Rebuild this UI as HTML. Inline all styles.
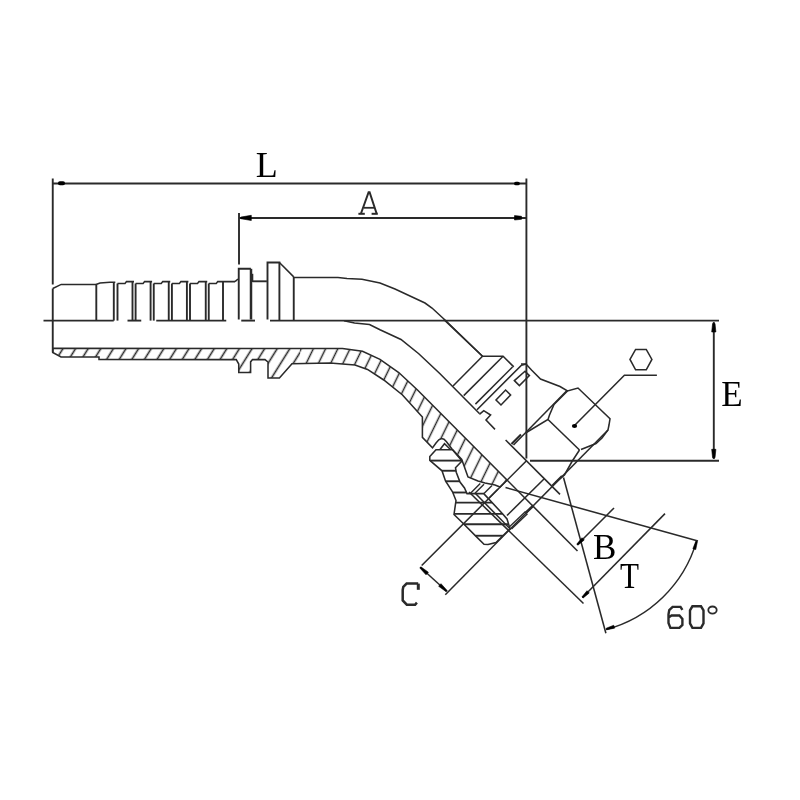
<!DOCTYPE html>
<html><head><meta charset="utf-8"><style>html,body{margin:0;padding:0;background:#fff;width:800px;height:800px;overflow:hidden}svg{display:block}text{-webkit-font-smoothing:antialiased}svg{will-change:transform}</style></head>
<body><svg width="800" height="800" viewBox="0 0 800 800">
<defs><clipPath id="cl"><rect x="0" y="0" width="300" height="800"/></clipPath><clipPath id="cr"><rect x="300" y="0" width="500" height="800"/></clipPath><pattern id="p1" patternUnits="userSpaceOnUse" x="8.29" width="10.69" height="40" patternTransform="rotate(32)"><line x1="5.345" y1="-5" x2="5.345" y2="45" stroke="#2a2a2a" stroke-width="1.6"/></pattern><pattern id="p2" patternUnits="userSpaceOnUse" x="0" width="11" height="40" patternTransform="rotate(26)"><line x1="5.5" y1="-5" x2="5.5" y2="45" stroke="#2a2a2a" stroke-width="1.5"/></pattern></defs>
<rect width="800" height="800" fill="#fff"/>
<g fill="none" stroke="#2a2a2a" stroke-linecap="butt" stroke-linejoin="miter">
<line x1="52.75" y1="178.50" x2="52.75" y2="284.50" stroke-width="1.9"/>
<line x1="526.40" y1="178.50" x2="526.40" y2="458.50" stroke-width="1.9"/>
<line x1="52.75" y1="183.50" x2="526.40" y2="183.50" stroke-width="1.9"/>
<line x1="59.9" y1="183.3" x2="63.1" y2="183.3" stroke="#000" stroke-width="3.9" stroke-linecap="round"/>
<line x1="515.9" y1="183.5" x2="518" y2="183.5" stroke="#000" stroke-width="3.7" stroke-linecap="round"/>
<line x1="239.00" y1="213.00" x2="239.00" y2="264.50" stroke-width="1.9"/>
<line x1="239.00" y1="218.00" x2="526.40" y2="218.00" stroke-width="1.9"/>
<path d="M240.80,217.10 L251.30,215.30 L251.30,220.50 L240.80,218.70Z" fill="#000" stroke="#000" stroke-width="0.6" stroke-linejoin="round"/>
<path d="M521.50,219.30 L514.50,220.00 L514.50,215.60 L521.50,216.30Z" fill="#000" stroke="#000" stroke-width="0.6" stroke-linejoin="round"/>
<text x="255.75" y="176.5" font-family="Liberation Serif" font-size="36" fill="#000" stroke="none">L</text>
<path d="M361.00,213.50 L368.60,192.20 L369.60,192.20 L376.60,213.50" stroke-width="2.0"/>
<line x1="364.00" y1="207.80" x2="374.00" y2="207.80" stroke-width="1.8"/>
<line x1="358.40" y1="213.80" x2="364.80" y2="213.80" stroke-width="2.0"/>
<line x1="371.60" y1="213.80" x2="377.80" y2="213.80" stroke-width="2.0"/>
<line x1="43.50" y1="320.60" x2="113.75" y2="320.60" stroke-width="1.9"/>
<line x1="127.50" y1="320.60" x2="141.25" y2="320.60" stroke-width="1.9"/>
<line x1="156.25" y1="320.60" x2="226.25" y2="320.60" stroke-width="1.9"/>
<line x1="241.25" y1="320.60" x2="255.00" y2="320.60" stroke-width="1.9"/>
<line x1="270.00" y1="320.60" x2="719.00" y2="320.60" stroke-width="1.9"/>
<line x1="530.00" y1="460.80" x2="719.00" y2="460.80" stroke-width="1.9"/>
<line x1="713.80" y1="322.00" x2="713.80" y2="459.00" stroke-width="1.9"/>
<path d="M715.00,323.50 L715.90,332.00 L711.70,332.00 L712.60,323.50Z" fill="#000" stroke="#000" stroke-width="0.6" stroke-linejoin="round"/>
<path d="M712.60,457.80 L711.70,449.30 L715.90,449.30 L715.00,457.80Z" fill="#000" stroke="#000" stroke-width="0.6" stroke-linejoin="round"/>
<text x="721.2" y="405.6" font-family="Liberation Serif" font-size="35" fill="#000" stroke="none">E</text>
<path d="M52.75,288.50 L61.20,284.40 L96.30,284.40" stroke-width="1.55"/>
<line x1="96.30" y1="284.40" x2="96.30" y2="320.60" stroke-width="1.9"/>
<path d="M96.00,284.40 L100.00,283.00 L110.00,282.30 L115.30,282.30" stroke-width="1.55"/>
<line x1="113.80" y1="282.30" x2="113.80" y2="320.60" stroke-width="1.9"/>
<line x1="117.50" y1="283.50" x2="117.50" y2="320.60" stroke-width="1.9"/>
<line x1="132.50" y1="281.60" x2="132.50" y2="320.60" stroke-width="1.9"/>
<path d="M117.50,283.50 L125.00,283.50 L126.50,281.60 L134.00,281.60" stroke-width="1.55"/>
<line x1="135.60" y1="283.50" x2="135.60" y2="320.60" stroke-width="1.9"/>
<line x1="150.60" y1="281.60" x2="150.60" y2="320.60" stroke-width="1.9"/>
<path d="M135.60,283.50 L143.10,283.50 L144.60,281.60 L152.10,281.60" stroke-width="1.55"/>
<line x1="153.75" y1="283.50" x2="153.75" y2="320.60" stroke-width="1.9"/>
<line x1="168.75" y1="281.60" x2="168.75" y2="320.60" stroke-width="1.9"/>
<path d="M153.75,283.50 L161.25,283.50 L162.75,281.60 L170.25,281.60" stroke-width="1.55"/>
<line x1="171.90" y1="283.50" x2="171.90" y2="320.60" stroke-width="1.9"/>
<line x1="186.90" y1="281.60" x2="186.90" y2="320.60" stroke-width="1.9"/>
<path d="M171.90,283.50 L179.40,283.50 L180.90,281.60 L188.40,281.60" stroke-width="1.55"/>
<line x1="190.00" y1="283.50" x2="190.00" y2="320.60" stroke-width="1.9"/>
<line x1="205.75" y1="281.60" x2="205.75" y2="320.60" stroke-width="1.9"/>
<path d="M190.00,283.50 L197.50,283.50 L199.00,281.60 L207.25,281.60" stroke-width="1.55"/>
<line x1="208.75" y1="283.50" x2="208.75" y2="320.60" stroke-width="1.9"/>
<line x1="223.00" y1="281.60" x2="223.00" y2="320.60" stroke-width="1.9"/>
<path d="M208.75,283.50 L216.25,283.50 L217.75,281.60 L235.00,281.60" stroke-width="1.55"/>
<path d="M235.00,281.60 L238.00,279.00" stroke-width="1.55"/>
<path d="M238.75,319.50 L238.75,268.80 L250.90,268.80" stroke-width="1.9"/>
<line x1="251.00" y1="268.80" x2="251.00" y2="319.50" stroke-width="2.5"/>
<line x1="252.30" y1="273.80" x2="252.30" y2="282.00" stroke-width="2"/>
<line x1="252.50" y1="281.30" x2="266.90" y2="281.30" stroke-width="1.9"/>
<path d="M267.50,319.50 L267.50,262.50 L279.40,262.50 L279.40,320.00" stroke-width="1.9"/>
<path d="M279.40,262.50 L293.75,276.90" stroke-width="1.55"/>
<line x1="293.75" y1="276.90" x2="293.75" y2="320.60" stroke-width="1.9"/>
<path d="M293.75,277.50 L338.00,277.50 L347.00,278.50 L362.00,279.20 L380.00,283.00 L395.00,289.00 L410.00,296.00 L425.00,303.00 L432.00,308.00 L445.00,320.00 L482.50,356.25" stroke-width="1.55"/>
<path d="M344.00,320.70 L354.50,323.00 L369.50,324.50 L380.00,329.70 L401.00,339.50 L418.75,353.75 L440.00,373.75 L479.40,413.50" stroke-width="1.55"/>
<g clip-path="url(#cl)">
<path d="M52.75,348.30 L342.50,348.50 L362.50,351.25 L380.00,359.40 L398.75,372.50 L417.50,390.00 L507.00,480.00 L500.00,487.00 L495.00,485.00 L485.00,483.00 L478.00,481.00 L468.00,477.00 L461.75,459.50 L452.00,449.00 L446.50,441.80 L444.00,439.30 L441.50,438.60 L438.80,439.80 L436.00,443.00 L432.50,447.90 L422.40,437.40 L422.40,417.00 L402.50,395.00 L383.75,380.00 L367.50,369.40 L355.00,365.00 L330.00,363.00 L292.00,363.75 L279.40,378.00 L268.00,378.00 L268.00,362.00 L265.00,359.60 L252.50,359.60 L250.60,361.90 L250.60,372.50 L238.75,372.50 L238.75,364.00 L236.25,359.60 L99.00,359.50 L99.00,357.00 L61.00,357.00 L52.75,352.50Z" fill="url(#p1)" stroke="none"/>
</g>
<g clip-path="url(#cr)">
<path d="M52.75,348.30 L342.50,348.50 L362.50,351.25 L380.00,359.40 L398.75,372.50 L417.50,390.00 L507.00,480.00 L500.00,487.00 L495.00,485.00 L485.00,483.00 L478.00,481.00 L468.00,477.00 L461.75,459.50 L452.00,449.00 L446.50,441.80 L444.00,439.30 L441.50,438.60 L438.80,439.80 L436.00,443.00 L432.50,447.90 L422.40,437.40 L422.40,417.00 L402.50,395.00 L383.75,380.00 L367.50,369.40 L355.00,365.00 L330.00,363.00 L292.00,363.75 L279.40,378.00 L268.00,378.00 L268.00,362.00 L265.00,359.60 L252.50,359.60 L250.60,361.90 L250.60,372.50 L238.75,372.50 L238.75,364.00 L236.25,359.60 L99.00,359.50 L99.00,357.00 L61.00,357.00 L52.75,352.50Z" fill="url(#p2)" stroke="none"/>
</g>
<path d="M52.75,348.30 L342.50,348.50 L362.50,351.25 L380.00,359.40 L398.75,372.50 L417.50,390.00 L507.00,480.00 L500.00,487.00 L495.00,485.00 L485.00,483.00 L478.00,481.00 L468.00,477.00 L461.75,459.50 L452.00,449.00 L446.50,441.80 L444.00,439.30 L441.50,438.60 L438.80,439.80 L436.00,443.00 L432.50,447.90 L422.40,437.40 L422.40,417.00 L402.50,395.00 L383.75,380.00 L367.50,369.40 L355.00,365.00 L330.00,363.00 L292.00,363.75 L279.40,378.00 L268.00,378.00 L268.00,362.00 L265.00,359.60 L252.50,359.60 L250.60,361.90 L250.60,372.50 L238.75,372.50 L238.75,364.00 L236.25,359.60 L99.00,359.50 L99.00,357.00 L61.00,357.00 L52.75,352.50Z" stroke-width="1.55"/>
<line x1="52.75" y1="288.50" x2="52.75" y2="352.50" stroke-width="1.9"/>
<path d="M443.75,319.40 L482.50,356.25 L503.10,356.25 L513.75,366.90" stroke-width="1.55"/>
<line x1="482.50" y1="356.25" x2="453.00" y2="386.00" stroke-width="1.55"/>
<line x1="503.10" y1="356.25" x2="463.75" y2="395.60" stroke-width="1.55"/>
<line x1="512.50" y1="367.00" x2="475.40" y2="404.10" stroke-width="1.55"/>
<path d="M526.40,364.00 L521.50,365.20 L477.00,409.75" stroke-width="1.55"/>
<path d="M514.40,380.60 L519.40,385.60 L529.40,375.60 L525.00,371.25Z" stroke-width="1.55"/>
<path d="M496.00,400.00 L501.00,405.00 L510.60,395.00 L505.60,390.00Z" stroke-width="1.55"/>
<path d="M479.40,414.40 L483.75,410.60 L490.60,415.00 L486.00,420.00 L495.00,429.40" stroke-width="1.55"/>
<line x1="505.60" y1="440.00" x2="560.00" y2="494.40" stroke-width="1.55"/>
<path d="M521.00,364.00 L526.00,364.00 L531.50,370.00 L540.50,379.00 L560.00,386.50 L567.50,391.00 L578.00,388.00 L610.00,418.75 L609.00,425.00 L608.00,430.00 L602.00,438.00 L596.00,443.50 L581.00,449.50" stroke-width="1.55"/>
<path d="M548.00,419.50 L579.50,450.00" stroke-width="1.55"/>
<path d="M567.50,391.00 L554.00,404.50 L549.50,415.00 L548.00,419.50 L525.50,433.00" stroke-width="1.55"/>
<line x1="513.50" y1="445.00" x2="567.00" y2="390.50" stroke-width="1.55"/>
<line x1="511.50" y1="444.00" x2="521.00" y2="434.50" stroke-width="2.2"/>
<path d="M579.50,450.00 L572.00,461.50 L564.50,475.00 L555.50,482.50" stroke-width="1.55"/>
<line x1="445.30" y1="594.80" x2="608.00" y2="430.00" stroke-width="1.55"/>
<line x1="552.50" y1="485.50" x2="562.00" y2="476.00" stroke-width="2.2"/>
<line x1="509.50" y1="526.80" x2="525.50" y2="511.50" stroke-width="1.3"/>
<line x1="511.50" y1="529.00" x2="527.50" y2="513.70" stroke-width="1.3"/>
<line x1="525.50" y1="513.00" x2="533.50" y2="505.50" stroke-width="2.6"/>
<path d="M630.00,359.40 L635.60,349.40 L646.25,349.40 L651.90,359.40 L646.25,369.75 L635.60,369.75Z" stroke-width="1.55"/>
<path d="M574.00,426.00 L624.40,375.25 L656.90,375.25" stroke-width="1.55"/>
<ellipse cx="574.5" cy="426" rx="2.6" ry="2" fill="#000" stroke="none"/>
<path d="M436.00,449.75 L452.50,449.75 L462.00,461.00 L455.50,467.75 L456.25,472.25 L460.00,482.00 L464.50,488.00 L467.00,493.60 L483.75,493.60 L502.50,513.75 L507.00,519.00 L510.00,528.75 L496.00,542.60 L488.00,544.50 L484.00,544.30 L475.30,535.60 L463.00,523.30 L454.00,514.50 L456.00,500.50 L452.50,491.80 L445.50,481.00 L442.00,470.80 L429.80,460.30 L429.80,456.60Z" stroke-width="1.55"/>
<line x1="430.15" y1="460.60" x2="461.66" y2="460.60" stroke-width="1.9"/>
<line x1="441.94" y1="470.75" x2="456.00" y2="470.75" stroke-width="1.9"/>
<line x1="445.66" y1="481.25" x2="459.71" y2="481.25" stroke-width="1.9"/>
<line x1="452.78" y1="492.50" x2="466.51" y2="492.50" stroke-width="1.9"/>
<line x1="455.70" y1="502.60" x2="492.12" y2="502.60" stroke-width="1.9"/>
<line x1="454.09" y1="513.90" x2="502.63" y2="513.90" stroke-width="1.9"/>
<line x1="463.95" y1="524.25" x2="508.62" y2="524.25" stroke-width="1.9"/>
<line x1="475.45" y1="535.75" x2="502.92" y2="535.75" stroke-width="1.9"/>
<path d="M440.00,449.50 L444.50,443.75 L450.50,449.50" stroke-width="1.55"/>
<line x1="470.50" y1="493.25" x2="480.25" y2="483.50" stroke-width="1.4"/>
<line x1="475.00" y1="493.25" x2="484.00" y2="484.25" stroke-width="1.4"/>
<line x1="484.00" y1="493.60" x2="492.00" y2="485.50" stroke-width="1.4"/>
<line x1="489.00" y1="498.00" x2="498.00" y2="489.00" stroke-width="1.4"/>
<line x1="475.50" y1="493.50" x2="510.00" y2="528.75" stroke-width="1.55"/>
<line x1="469.00" y1="492.00" x2="583.50" y2="603.50" stroke-width="1.55"/>
<line x1="507.00" y1="480.00" x2="577.50" y2="551.00" stroke-width="1.55"/>
<line x1="421.70" y1="565.50" x2="526.25" y2="461.00" stroke-width="1.55"/>
<line x1="420.00" y1="567.00" x2="447.00" y2="591.50" stroke-width="1.55"/>
<path d="M421.04,566.91 L428.36,572.22 L426.02,574.82 L419.96,568.09Z" fill="#000" stroke="#000" stroke-width="0.6" stroke-linejoin="round"/>
<path d="M445.96,591.59 L438.64,586.28 L440.98,583.68 L447.04,590.41Z" fill="#000" stroke="#000" stroke-width="0.6" stroke-linejoin="round"/>
<line x1="418.30" y1="583.60" x2="418.30" y2="589.80" stroke-width="3"/>
<path d="M418.20,583.50 L406.60,583.50 L403.30,586.80 L402.70,589.90 L402.70,600.40 L406.80,604.70 L415.10,604.70 L416.90,602.60" stroke-width="2.5"/>
<line x1="507.00" y1="515.50" x2="544.00" y2="479.00" stroke-width="1.55"/>
<line x1="563.50" y1="477.50" x2="605.90" y2="633.30" stroke-width="1.55"/>
<line x1="505.50" y1="487.50" x2="698.00" y2="541.10" stroke-width="1.55"/>
<path d="M606,629.5 A129,129 0 0 0 696.6,541.1" stroke-width="1.5"/>
<path d="M606.27,628.23 L613.73,625.26 L614.59,628.14 L606.73,629.77Z" fill="#000" stroke="#000" stroke-width="0.6" stroke-linejoin="round"/>
<path d="M697.37,541.73 L695.74,549.59 L692.86,548.73 L695.83,541.27Z" fill="#000" stroke="#000" stroke-width="0.6" stroke-linejoin="round"/>
<line x1="577.00" y1="545.00" x2="614.00" y2="508.00" stroke-width="1.55"/>
<path d="M576.93,543.93 L582.03,537.71 L584.29,539.97 L578.07,545.07Z" fill="#000" stroke="#000" stroke-width="0.6" stroke-linejoin="round"/>
<line x1="582.50" y1="597.50" x2="665.00" y2="513.60" stroke-width="1.55"/>
<path d="M581.93,596.93 L587.03,590.71 L589.29,592.97 L583.07,598.07Z" fill="#000" stroke="#000" stroke-width="0.6" stroke-linejoin="round"/>
<text x="593" y="559" font-family="Liberation Serif" font-size="35" fill="#000" stroke="none">B</text>
<text x="620" y="588" font-family="Liberation Serif" font-size="35" fill="#000" stroke="none" textLength="19" lengthAdjust="spacingAndGlyphs">T</text>
<path d="M682.40,609.90 L680.50,606.90 L672.60,606.90 L669.25,610.10 L668.50,614.40 L668.50,623.00 L670.40,627.90 L679.40,627.90 L682.40,624.90 L682.40,618.90 L679.40,615.50 L671.50,615.50 L668.90,617.40" stroke-width="2.4"/>
<path d="M692.40,606.30 L701.00,606.30 L703.50,610.40 L703.50,623.40 L701.00,627.90 L692.40,627.90 L690.00,623.40 L690.00,610.40Z" stroke-width="2.4"/>
<ellipse cx="712.5" cy="610.1" rx="4.2" ry="3.6" stroke-width="1.8"/>
</g></svg></body></html>
